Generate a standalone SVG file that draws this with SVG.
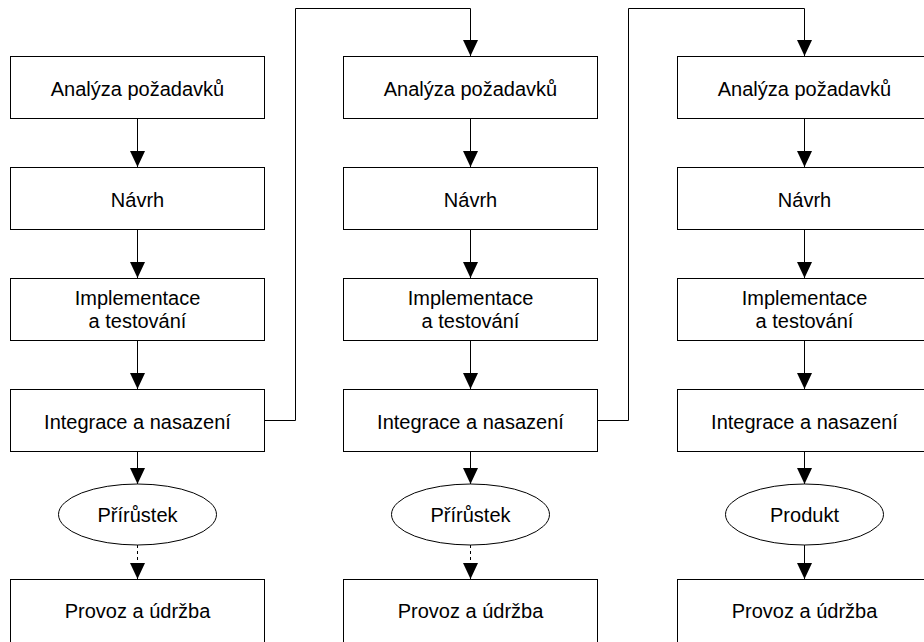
<svg xmlns="http://www.w3.org/2000/svg" width="924" height="642" viewBox="0 0 924 642">
<defs>
<marker id="ah" viewBox="0 0 16 15" refX="16" refY="7.5" markerWidth="16" markerHeight="15" markerUnits="userSpaceOnUse" orient="auto">
<path d="M0,0 L16,7.5 L0,15 Z" fill="#000"/>
</marker>
<style>
.box{fill:#fff;stroke:#000;stroke-width:1}
.t{font-family:"Liberation Sans",Arial,sans-serif;font-size:20px;fill:#000;text-anchor:middle}
.c{fill:none;stroke:#000;stroke-width:1}
.d{fill:none;stroke:#000;stroke-width:1;stroke-dasharray:3 3}
</style>
</defs>
<rect width="924" height="642" fill="#fff"/>
<g id="connectors">
<path class="c" d="M137.5,119 V167" marker-end="url(#ah)"/>
<path class="c" d="M137.5,230 V278" marker-end="url(#ah)"/>
<path class="c" d="M137.5,341 V389" marker-end="url(#ah)"/>
<path class="c" d="M137.5,452 V484" marker-end="url(#ah)"/>
<path class="d" d="M137.5,545 V564"/>
<path class="c" d="M137.5,564 V579" marker-end="url(#ah)"/>
<path class="c" d="M264,420.5 H295.5 V8.5 H470.5 V56" marker-end="url(#ah)"/>
<path class="c" d="M470.5,119 V167" marker-end="url(#ah)"/>
<path class="c" d="M470.5,230 V278" marker-end="url(#ah)"/>
<path class="c" d="M470.5,341 V389" marker-end="url(#ah)"/>
<path class="c" d="M470.5,452 V484" marker-end="url(#ah)"/>
<path class="d" d="M470.5,545 V564"/>
<path class="c" d="M470.5,564 V579" marker-end="url(#ah)"/>
<path class="c" d="M597,420.5 H628.5 V8.5 H804.5 V56" marker-end="url(#ah)"/>
<path class="c" d="M804.5,119 V167" marker-end="url(#ah)"/>
<path class="c" d="M804.5,230 V278" marker-end="url(#ah)"/>
<path class="c" d="M804.5,341 V389" marker-end="url(#ah)"/>
<path class="c" d="M804.5,452 V484" marker-end="url(#ah)"/>
<path class="c" d="M804.5,545 V579" marker-end="url(#ah)"/>
</g>
<g id="a1"><rect class="box" x="10.5" y="56.5" width="254" height="62"/><text class="t" x="137.5" y="96">Analýza požadavků</text></g>
<g id="n1"><rect class="box" x="10.5" y="167.5" width="254" height="62"/><text class="t" x="137.5" y="207">Návrh</text></g>
<g id="i1"><rect class="box" x="10.5" y="278.5" width="254" height="62"/><text class="t" x="137.5" y="305">Implementace</text><text class="t" x="137.5" y="328">a testování</text></g>
<g id="g1"><rect class="box" x="10.5" y="389.5" width="254" height="62"/><text class="t" x="137.5" y="429">Integrace a nasazení</text></g>
<g id="e1"><ellipse class="box" cx="137.5" cy="514.5" rx="79" ry="30.5"/><text class="t" x="137.5" y="522">Přírůstek</text></g>
<g id="p1"><rect class="box" x="10.5" y="579.5" width="254" height="70"/><text class="t" x="137.5" y="618">Provoz a údržba</text></g>

<g id="a2"><rect class="box" x="343.5" y="56.5" width="254" height="62"/><text class="t" x="470.5" y="96">Analýza požadavků</text></g>
<g id="n2"><rect class="box" x="343.5" y="167.5" width="254" height="62"/><text class="t" x="470.5" y="207">Návrh</text></g>
<g id="i2"><rect class="box" x="343.5" y="278.5" width="254" height="62"/><text class="t" x="470.5" y="305">Implementace</text><text class="t" x="470.5" y="328">a testování</text></g>
<g id="g2"><rect class="box" x="343.5" y="389.5" width="254" height="62"/><text class="t" x="470.5" y="429">Integrace a nasazení</text></g>
<g id="e2"><ellipse class="box" cx="470.5" cy="514.5" rx="79" ry="30.5"/><text class="t" x="470.5" y="522">Přírůstek</text></g>
<g id="p2"><rect class="box" x="343.5" y="579.5" width="254" height="70"/><text class="t" x="470.5" y="618">Provoz a údržba</text></g>

<g id="a3"><rect class="box" x="677.5" y="56.5" width="254" height="62"/><text class="t" x="804.5" y="96">Analýza požadavků</text></g>
<g id="n3"><rect class="box" x="677.5" y="167.5" width="254" height="62"/><text class="t" x="804.5" y="207">Návrh</text></g>
<g id="i3"><rect class="box" x="677.5" y="278.5" width="254" height="62"/><text class="t" x="804.5" y="305">Implementace</text><text class="t" x="804.5" y="328">a testování</text></g>
<g id="g3"><rect class="box" x="677.5" y="389.5" width="254" height="62"/><text class="t" x="804.5" y="429">Integrace a nasazení</text></g>
<g id="e3"><ellipse class="box" cx="804.5" cy="514.5" rx="79" ry="30.5"/><text class="t" x="804.5" y="522">Produkt</text></g>
<g id="p3"><rect class="box" x="677.5" y="579.5" width="254" height="70"/><text class="t" x="804.5" y="618">Provoz a údržba</text></g>
</svg>
